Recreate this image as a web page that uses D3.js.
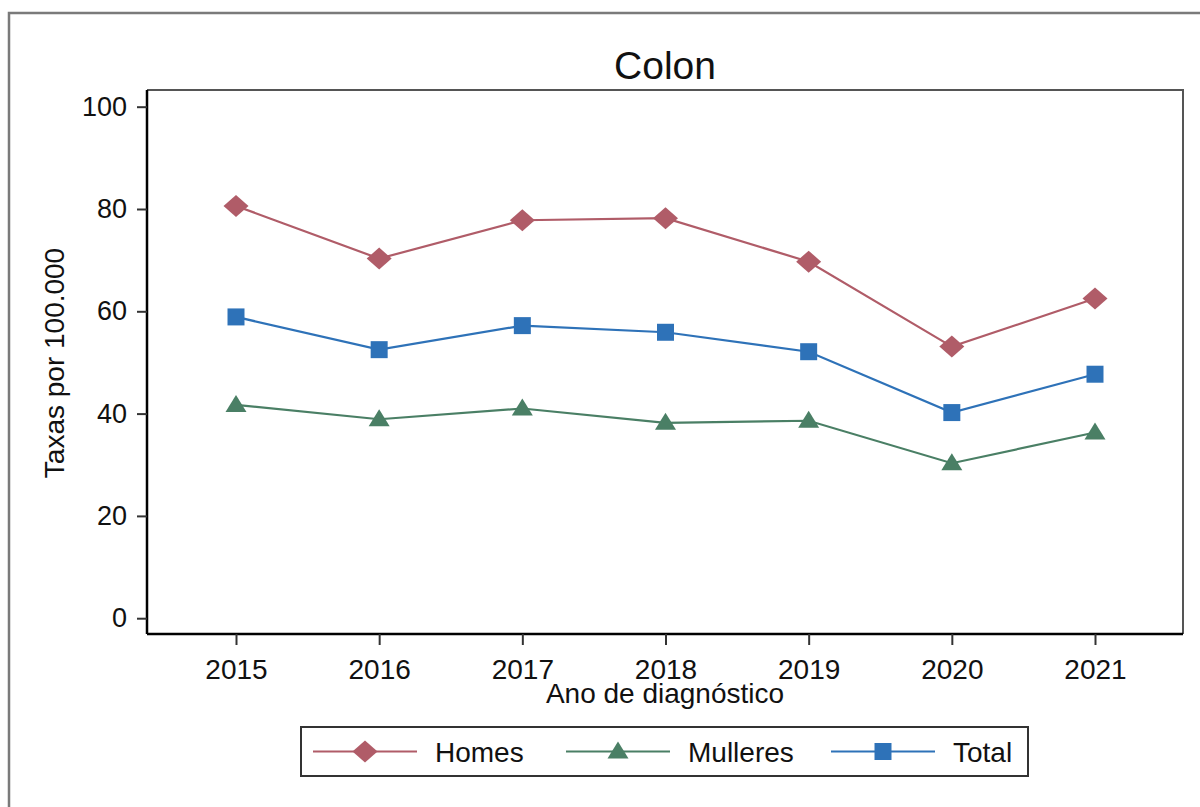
<!DOCTYPE html>
<html>
<head>
<meta charset="utf-8">
<script src="https://cdn.jsdelivr.net/npm/d3@7"></script>
<style>
html,body{margin:0;padding:0;background:#fff;}
svg{display:block;font-family:"Liberation Sans",Arial,sans-serif;}
</style>
</head>
<body>
<svg id="chart" width="1200" height="807"></svg>
<script>
const years = [2015, 2016, 2017, 2018, 2019, 2020, 2021];
const homes = [80.6, 70.3, 77.8, 78.2, 69.7, 53.1, 62.5];
const mulleres = [41.7, 38.9, 41.0, 38.2, 38.6, 30.3, 36.3];
const total = [58.9, 52.5, 57.2, 55.9, 52.1, 40.2, 47.7];
const yTicks = [0, 20, 40, 60, 80, 100];
const seriesNames = ["Homes", "Mulleres", "Total"];
const seriesColors = ["#b05c68", "#4a7f65", "#2e72b8"];
const seriesShapes = ["diamond", "triangle", "square"];
const titleText = "Colon";
const xTitle = "Ano de diagnóstico";
const yTitle = "Taxas por 100.000";

const svg = d3.select("#chart");
const frame = {left: 147, right: 1183, top: 90, bottom: 634};
const FONT = "Liberation Sans, Arial, sans-serif";

// outer border
svg.append("rect").attr("x", 9).attr("y", 13).attr("width", 1200).attr("height", 820)
  .attr("fill", "none").attr("stroke", "#7a7a7a").attr("stroke-width", 2.5);

const x = d3.scaleLinear().domain([2015, 2021]).range([236, 1095]);
const y = d3.scaleLinear().domain([0, 100]).range([618.2, 106.7]);

// plot frame top/right
svg.append("path")
  .attr("d", `M${frame.left},${frame.top}H${frame.right}V${frame.bottom}`)
  .attr("fill", "none").attr("stroke", "#555").attr("stroke-width", 2);

// y axis
const yAxis = svg.append("g").attr("transform", `translate(${frame.left},0)`)
  .call(d3.axisLeft(y).tickValues(yTicks).tickSize(10).tickPadding(10));
yAxis.select(".domain").attr("d", `M0,${frame.top}V${frame.bottom}`).attr("stroke", "#000").attr("stroke-width", 2.5);
yAxis.selectAll(".tick line").attr("stroke", "#333").attr("stroke-width", 2);
yAxis.selectAll(".tick text").attr("font-size", 27).attr("fill", "#111")
  .attr("font-family", FONT);

// x axis
const xAxis = svg.append("g").attr("transform", `translate(0,${frame.bottom})`)
  .call(d3.axisBottom(x).tickValues(years).tickFormat(d3.format("d")).tickSize(11));
xAxis.select(".domain").attr("d", `M${frame.left},0H${frame.right}`).attr("stroke", "#000").attr("stroke-width", 2.5);
xAxis.selectAll(".tick line").attr("stroke", "#333").attr("stroke-width", 2);
xAxis.selectAll(".tick text").attr("font-size", 28).attr("fill", "#111")
  .attr("font-family", FONT).attr("y", 45).attr("dy", 0);

// titles
svg.append("text").attr("x", 665).attr("y", 79).attr("text-anchor", "middle")
  .attr("font-size", 39).attr("fill", "#111").text(titleText);
svg.append("text").attr("x", 665).attr("y", 703).attr("text-anchor", "middle")
  .attr("font-size", 28).attr("fill", "#111").text(xTitle);
svg.append("text").attr("transform", "translate(64,363) rotate(-90)").attr("text-anchor", "middle")
  .attr("font-size", 28).attr("fill", "#111").text(yTitle);

function markerPath(shape) {
  if (shape === "diamond") return "M0,-11L12.5,0L0,11L-12.5,0Z";
  if (shape === "triangle") return "M0,-10L10.5,7L-10.5,7Z";
  return "M-8.5,-8.5H8.5V8.5H-8.5Z";
}

const data = [homes, mulleres, total];
const line = d3.line().x((d, i) => x(years[i])).y(d => y(d));

data.forEach((vals, s) => {
  svg.append("path").datum(vals).attr("d", line)
    .attr("fill", "none").attr("stroke", seriesColors[s]).attr("stroke-width", 2.2);
  svg.append("g").selectAll("path").data(vals).join("path")
    .attr("transform", (d, i) => `translate(${x(years[i])},${y(d)})`)
    .attr("d", markerPath(seriesShapes[s]))
    .attr("fill", seriesColors[s]);
});

// legend
const lg = svg.append("g");
lg.append("rect").attr("x", 301).attr("y", 727).attr("width", 727).attr("height", 49)
  .attr("fill", "#fff").attr("stroke", "#333").attr("stroke-width", 2);
const legendX = [313, 566, 831];
seriesNames.forEach((name, s) => {
  const lx = legendX[s];
  const ly = 751.5;
  lg.append("line").attr("x1", lx).attr("x2", lx + 104).attr("y1", ly).attr("y2", ly)
    .attr("stroke", seriesColors[s]).attr("stroke-width", 2.2);
  lg.append("path").attr("transform", `translate(${lx + 52},${ly})`)
    .attr("d", markerPath(seriesShapes[s])).attr("fill", seriesColors[s]);
  lg.append("text").attr("x", lx + 122).attr("y", ly + 10).attr("font-size", 28)
    .attr("fill", "#111").text(name);
});
</script>
</body>
</html>
